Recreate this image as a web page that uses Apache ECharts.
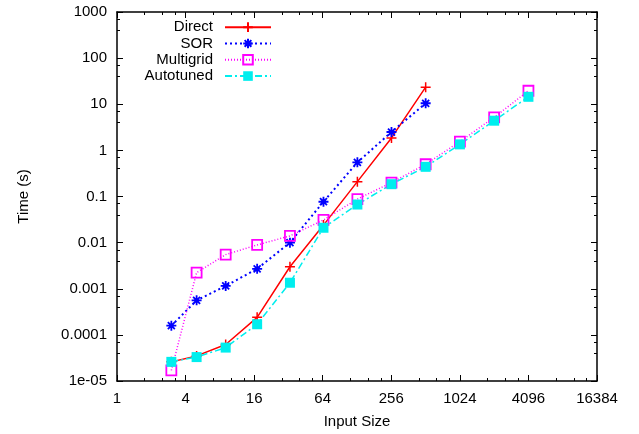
<!DOCTYPE html>
<html>
<head>
<meta charset="utf-8">
<script src="https://cdn.jsdelivr.net/npm/echarts@6/dist/echarts.min.js"></script>
<style>html,body{margin:0;padding:0;background:#fff}#c{width:639px;height:434px}</style>
</head>
<body>
<div id="c"></div>
<script>
var inputSizes = [3, 5, 9, 17, 33, 65, 129, 257, 513, 1025, 2049, 4097];
var directTimes = [2.6e-5, 3.5e-5, 6.2e-5, 2.4e-4, 3.0e-3, 0.024, 0.21, 1.86, 23.5];
var sorTimes = [1.58e-4, 5.6e-4, 1.15e-3, 2.7e-3, 0.0100, 0.077, 0.55, 2.5, 10.5];
var multigridTimes = [1.7e-5, 2.24e-3, 5.5e-3, 8.9e-3, 0.014, 0.031, 0.088, 0.20, 0.50, 1.55, 5.2, 19.6];
var autotunedTimes = [2.6e-5, 3.3e-5, 5.3e-5, 1.7e-4, 1.35e-3, 0.021, 0.067, 0.185, 0.44, 1.35, 4.4, 14.5];
var xTickLabels = ['1', '4', '16', '64', '256', '1024', '4096', '16384'];
var yTickLabels = ['1e-05', '0.0001', '0.001', '0.01', '0.1', '1', '10', '100', '1000'];
var seriesNames = ['Direct', 'SOR', 'Multigrid', 'Autotuned'];

function pairs(ys) { return ys.map(function (y, i) { return [inputSizes[i], y]; }); }

var FONT = 'Liberation Sans, Arial, Helvetica, sans-serif';
var plusPath = 'path://M5,0L5,10M0,5L10,5';
var starPath = 'path://M5,0L5,10M0,5L10,5M1.5,1.5L8.5,8.5M8.5,1.5L1.5,8.5';
var boxPath = 'path://M0,0L10,0L10,10L0,10Z';

var axisLine = { show: true, onZero: false, lineStyle: { color: '#000', width: 1.5 } };
var axisTick = { show: true, inside: true, length: 6, lineStyle: { color: '#000', width: 1 } };
var minorTickX = { show: true, splitNumber: 4, length: 3, lineStyle: { color: '#000', width: 1 } };
var minorTickY = { show: true, splitNumber: 3, length: 3, lineStyle: { color: '#000', width: 1 } };

function xLabel(v) { var i = Math.round(Math.log2(v) / 2); return xTickLabels[i] || ''; }
function yLabel(v) { var i = Math.round(Math.log10(v)) + 5; return yTickLabels[i] || ''; }

var chart = echarts.init(document.getElementById('c'), null, { renderer: 'canvas' });
chart.setOption({
  animation: false,
  backgroundColor: '#fff',
  textStyle: { fontFamily: FONT },
  grid: { left: 117, right: 42, top: 12, bottom: 53, containLabel: false },
  legend: {
    orient: 'vertical',
    right: 362,
    top: 14,
    align: 'right',
    itemWidth: 46,
    itemHeight: 12,
    itemGap: 0,
    textStyle: { fontFamily: FONT, fontSize: 15, lineHeight: 16.3, height: 16.3, color: '#000', padding: [0, 7, 0, 0] },
    data: seriesNames
  },
  xAxis: [{
    type: 'log', logBase: 2, min: 1, max: 16384, interval: 2,
    name: 'Input Size', nameLocation: 'middle', nameGap: 33,
    nameTextStyle: { fontFamily: FONT, fontSize: 15, color: '#000' },
    axisLine: axisLine, axisTick: axisTick, minorTick: minorTickX,
    splitLine: { show: false }, minorSplitLine: { show: false },
    axisLabel: { fontFamily: FONT, fontSize: 15, color: '#000', margin: 10, formatter: xLabel, showMinLabel: true, showMaxLabel: true }
  }, {
    type: 'log', logBase: 2, min: 1, max: 16384, interval: 2, position: 'top',
    axisLine: axisLine, axisTick: axisTick, minorTick: minorTickX,
    splitLine: { show: false }, axisLabel: { show: false }
  }],
  yAxis: [{
    type: 'log', logBase: 10, min: 1e-5, max: 1000, interval: 1,
    name: 'Time (s)', nameLocation: 'middle', nameGap: 86, nameRotate: 90,
    nameTextStyle: { fontFamily: FONT, fontSize: 15, color: '#000' },
    axisLine: axisLine, axisTick: axisTick, minorTick: minorTickY,
    splitLine: { show: false }, minorSplitLine: { show: false },
    axisLabel: { fontFamily: FONT, fontSize: 15, color: '#000', margin: 10, formatter: yLabel, showMinLabel: true, showMaxLabel: true }
  }, {
    type: 'log', logBase: 10, min: 1e-5, max: 1000, interval: 1, position: 'right',
    axisLine: axisLine, axisTick: axisTick, minorTick: minorTickY,
    splitLine: { show: false }, axisLabel: { show: false }
  }],
  series: [{
    name: 'Direct', type: 'line', data: pairs(directTimes),
    symbol: plusPath, symbolSize: 10,
    lineStyle: { color: '#ff0000', width: 1.5, type: 'solid' },
    itemStyle: { color: '#ff0000', borderColor: '#ff0000', borderWidth: 1.5 }
  }, {
    name: 'SOR', type: 'line', data: pairs(sorTimes),
    symbol: starPath, symbolSize: 10,
    lineStyle: { color: '#0000ff', width: 2, type: [2, 3] },
    itemStyle: { color: '#0000ff', borderColor: '#0000ff', borderWidth: 1.8 }
  }, {
    name: 'Multigrid', type: 'line', data: pairs(multigridTimes),
    symbol: boxPath, symbolSize: 10,
    lineStyle: { color: '#ff00ff', width: 1.5, type: [1, 2] },
    itemStyle: { color: 'rgba(255,255,255,0)', borderColor: '#ff00ff', borderWidth: 1.8 }
  }, {
    name: 'Autotuned', type: 'line', data: pairs(autotunedTimes),
    symbol: 'rect', symbolSize: 10,
    lineStyle: { color: '#00eeee', width: 1.5, type: [7, 3, 2, 3] },
    itemStyle: { color: '#00eeee' }
  }]
});
</script>
</body>
</html>
